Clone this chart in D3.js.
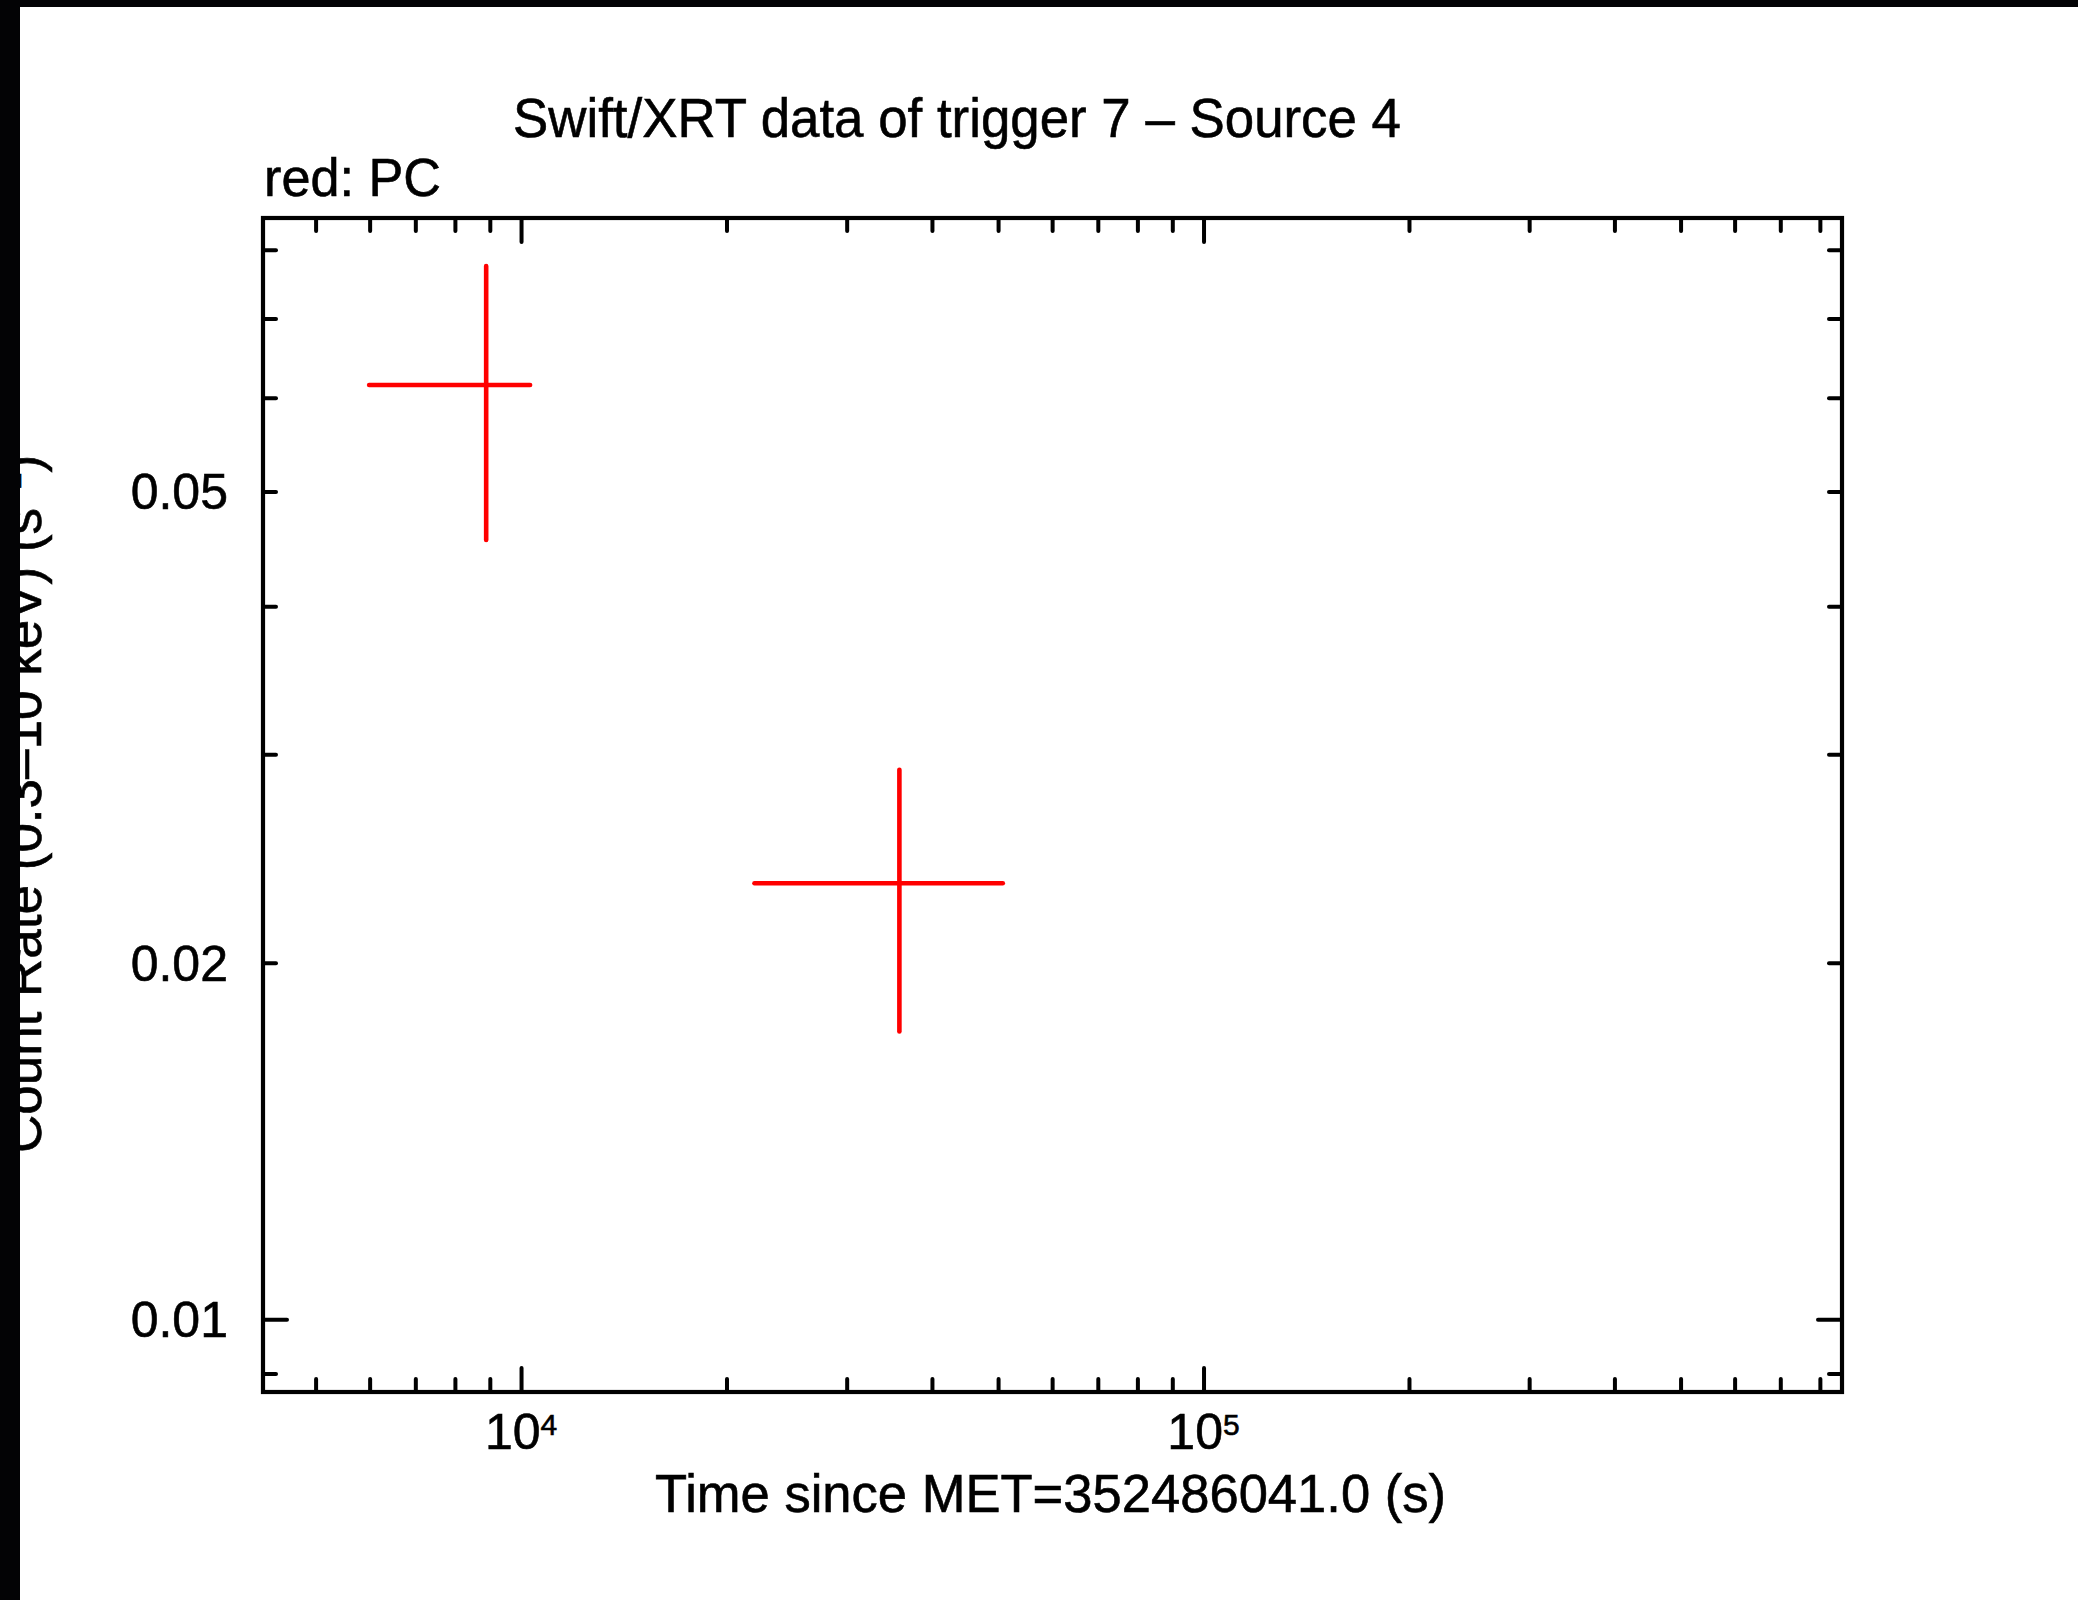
<!DOCTYPE html>
<html>
<head>
<meta charset="utf-8">
<script src="https://cdn.jsdelivr.net/npm/d3@7"></script>
<style>
  html, body { margin: 0; padding: 0; background: #fff; }
  svg { display: block; }
  text { font-family: "Liberation Sans", Arial, Helvetica, sans-serif; fill: #000; stroke: #000; stroke-width: 0.6px; }
</style>
</head>
<body>
<svg id="chart" width="2078" height="1600"></svg>
<script>
// ---- data ----
const times    = [8890, 35840];      // s since MET
const timeLo   = [5990, 21980];
const timeHi   = [10310, 50800];
const rates    = [0.0615, 0.02334];  // count/s
const rateLo   = [0.0455, 0.0175];
const rateHi   = [0.0775, 0.0291];

const xDomain = [4187, 862000];
const yDomain = [0.00868, 0.0851];

const xMajorTicks = [1e4, 1e5];
const xMajorExp   = ["4", "5"];
const xMinorTicks = [5000, 6000, 7000, 8000, 9000,
                     20000, 30000, 40000, 50000, 60000, 70000, 80000, 90000,
                     200000, 300000, 400000, 500000, 600000, 700000, 800000];
const yMajorTicks = [0.01];
const yMinorTicks = [0.009, 0.02, 0.03, 0.04, 0.05, 0.06, 0.07, 0.08];
const yTickLabels = [0.01, 0.02, 0.05];
const yTickText   = ["0.01", "0.02", "0.05"];

const titleText = "Swift/XRT data of trigger 7 \u2013 Source 4";
const subText   = "red: PC";
const xLabel    = "Time since MET=352486041.0 (s)";

// ---- layout ----
const W = 2078, H = 1600;
const X0 = 263, X1 = 1842, Y0 = 218, Y1 = 1392;
const MAJ = 24, MIN = 13;

const svg = d3.select("#chart");
svg.append("rect").attr("width", W).attr("height", H).attr("fill", "#fff");

const x = d3.scaleLog().domain(xDomain).range([X0, X1]);
const y = d3.scaleLog().domain(yDomain).range([Y1, Y0]);

function styleAxis(g) {
  g.select(".domain").remove();
  g.selectAll(".tick line").attr("stroke", "#000").attr("stroke-width", 4).attr("stroke-linecap", "round");
  g.selectAll(".tick text").remove();
}
function addAxis(axisFn, scale, vals, len, tx, ty) {
  svg.append("g").attr("transform", `translate(${tx},${ty})`)
    .call(axisFn(scale).tickValues(vals).tickSize(-len).tickSizeOuter(0).tickFormat(""))
    .call(styleAxis);
}
addAxis(d3.axisBottom, x, xMajorTicks, MAJ, 0, Y1);
addAxis(d3.axisBottom, x, xMinorTicks, MIN, 0, Y1);
addAxis(d3.axisTop, x, xMajorTicks, MAJ, 0, Y0);
addAxis(d3.axisTop, x, xMinorTicks, MIN, 0, Y0);
addAxis(d3.axisLeft, y, yMajorTicks, MAJ, X0, 0);
addAxis(d3.axisLeft, y, yMinorTicks, MIN, X0, 0);
addAxis(d3.axisRight, y, yMajorTicks, MAJ, X1, 0);
addAxis(d3.axisRight, y, yMinorTicks, MIN, X1, 0);

// frame
svg.append("rect").attr("x", X0).attr("y", Y0).attr("width", X1 - X0).attr("height", Y1 - Y0)
  .attr("fill", "none").attr("stroke", "#000").attr("stroke-width", 4.2);

// x tick labels
xMajorTicks.forEach((v, i) => {
  const t = svg.append("text").attr("x", x(v)).attr("y", 1449)
    .attr("text-anchor", "middle").attr("font-size", 50);
  t.append("tspan").text("10");
  t.append("tspan").attr("font-size", 30).attr("dy", -14).text(xMajorExp[i]);
});

// y tick labels
yTickLabels.forEach((v, i) => {
  svg.append("text").attr("x", 228).attr("y", y(v) + 18)
    .attr("text-anchor", "end").attr("font-size", 50).text(yTickText[i]);
});

// titles
svg.append("text").attr("x", 513).attr("y", 137).attr("font-size", 56)
  .attr("textLength", 888).attr("lengthAdjust", "spacingAndGlyphs").text(titleText);
svg.append("text").attr("x", 264).attr("y", 196).attr("font-size", 54)
  .attr("textLength", 177).attr("lengthAdjust", "spacingAndGlyphs").text(subText);
svg.append("text").attr("x", 655).attr("y", 1512).attr("font-size", 53)
  .attr("textLength", 791).attr("lengthAdjust", "spacingAndGlyphs").text(xLabel);

// y label (rotated)
const yl = svg.append("text").attr("transform", "translate(41,804) rotate(-90)")
  .attr("text-anchor", "middle").attr("font-size", 53);
yl.append("tspan").text("Count Rate (0.3\u201310 keV) (s");
yl.append("tspan").attr("font-size", 31).attr("dy", -20).text("\u22121");
yl.append("tspan").attr("dy", 20).text(")");

// data: error crosses
const pts = times.map((t, i) => ({t, tl: timeLo[i], th: timeHi[i], r: rates[i], rl: rateLo[i], rh: rateHi[i]}));
const gData = svg.append("g").attr("stroke", "#ff0000").attr("stroke-width", 4.6).attr("stroke-linecap", "round");
gData.selectAll("line.h").data(pts).enter().append("line").attr("class", "h")
  .attr("x1", d => x(d.tl)).attr("x2", d => x(d.th))
  .attr("y1", d => y(d.r)).attr("y2", d => y(d.r));
gData.selectAll("line.v").data(pts).enter().append("line").attr("class", "v")
  .attr("x1", d => x(d.t)).attr("x2", d => x(d.t))
  .attr("y1", d => y(d.rl)).attr("y2", d => y(d.rh));

// black borders of the original screenshot
svg.append("rect").attr("x", 0).attr("y", 0).attr("width", W).attr("height", 7).attr("fill", "#030305");
svg.append("rect").attr("x", 0).attr("y", 0).attr("width", 20).attr("height", H).attr("fill", "#030305");
</script>
</body>
</html>
